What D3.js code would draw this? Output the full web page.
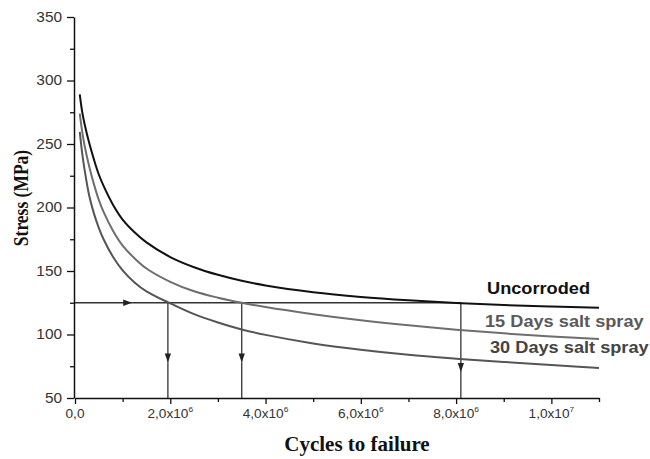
<!DOCTYPE html>
<html>
<head>
<meta charset="utf-8">
<script src="https://cdn.jsdelivr.net/npm/d3@7"></script>
<style>
  html, body { margin: 0; padding: 0; background: #fff; }
  svg { display: block; }
</style>
</head>
<body>
<svg id="chart" width="650" height="459"></svg>
<script>
// ---- data (cycles in units of 1e6) ----
const cycles     = [0.1, 0.15, 0.2, 0.3, 0.4, 0.5, 0.6, 0.8, 1.0, 1.25, 1.5, 2, 2.5, 3, 3.5, 4, 5, 6, 7, 8, 9, 10, 11];
const uncorroded = [289, 275.5, 266, 250.5, 237.5, 226, 217, 202, 190.5, 180.5, 172.5, 161, 153, 147, 142.3, 138.6, 133.3, 129.6, 126.9, 124.8, 123.2, 122, 121];
const days15     = [274, 260, 249, 232, 218, 206, 196.5, 181.5, 170, 160, 152, 141.5, 134, 129, 125, 121.6, 116, 111.2, 107.2, 103.8, 100.9, 98.5, 96.5];
const days30     = [259.5, 243, 230, 209, 195, 184, 175, 161, 150.5, 141, 134, 124.5, 116, 109.5, 104, 99.7, 93, 88, 84, 81, 78.4, 76, 73.6];
const seriesNames = ["Uncorroded", "15 Days salt spray", "30 Days salt spray"];
const refStress = 125;
const crossCycles = [1.95, 3.5, 8.1];
const arrowStress = [78, 78, 70.5];
const hArrowCycles = 1.2;
const yTicks = [50, 100, 150, 200, 250, 300, 350];
const yMinor = [75, 125, 175, 225, 275, 325];
const xTicks = [0, 2, 4, 6, 8, 10];
const xTickMant = ["0,0", "2,0", "4,0", "6,0", "8,0", "1,0"];
const xTickExp = ["", "6", "6", "6", "6", "7"];
const xMinor = [1, 3, 5, 7, 9, 11];

const svg = d3.select("#chart");
const x = d3.scaleLinear().domain([0, 11]).range([75, 599]);
const y = d3.scaleLinear().domain([50, 350]).range([398, 17]);

const defs = svg.append("defs");
defs.append("marker").attr("id", "arr")
  .attr("viewBox", "0 0 10 10").attr("refX", 10).attr("refY", 5)
  .attr("markerWidth", 9).attr("markerHeight", 9).attr("markerUnits", "userSpaceOnUse")
  .attr("orient", "auto")
  .append("path").attr("d", "M0,1.5 L10,5 L0,8.5 Z").attr("fill", "#222");

// ---- axes ----
const yAxis = svg.append("g").attr("transform", `translate(${x(0) - 1},0)`)
  .call(d3.axisLeft(y).tickValues(yTicks).tickSize(7).tickSizeOuter(0).tickPadding(5));
svg.append("g").attr("transform", `translate(${x(0) - 1},0)`)
  .call(d3.axisLeft(y).tickValues(yMinor).tickSize(4).tickFormat(""))
  .select(".domain").remove();
yAxis.selectAll(".tick text")
  .attr("font-family", "Liberation Sans, Arial, sans-serif")
  .attr("font-size", 14).attr("fill", "#333")
  .attr("transform", "translate(-12,0) scale(1.1,1) translate(12,0)");

svg.append("g").attr("transform", `translate(0,${y(50)})`)
  .call(d3.axisBottom(x).tickValues(xTicks).tickSize(6).tickSizeOuter(0).tickFormat(""));
svg.append("g").attr("transform", `translate(0,${y(50)})`)
  .call(d3.axisBottom(x).tickValues(xMinor).tickSize(4).tickFormat(""))
  .select(".domain").remove();
svg.selectAll(".domain").attr("stroke", "#111").attr("stroke-width", 1.5);
svg.selectAll(".tick line").attr("stroke", "#111").attr("stroke-width", 1.3);

const xl = svg.append("g");
xTicks.forEach((v, i) => {
  const t = xl.append("text")
    .attr("transform", `translate(${x(v)},418) scale(1.05,1)`)
    .attr("text-anchor", "middle")
    .attr("font-family", "Liberation Sans, Arial, sans-serif").attr("font-size", 13).attr("fill", "#333");
  if (xTickExp[i] === "") {
    t.text(xTickMant[i]);
  } else {
    t.append("tspan").text(xTickMant[i] + "x10");
    t.append("tspan").attr("dy", -6).attr("font-size", 8).text(xTickExp[i]);
  }
});

// ---- axis titles ----
svg.append("text").attr("transform", "translate(28,198) scale(1.2,1) rotate(-90)")
  .attr("text-anchor", "middle")
  .attr("font-family", "Liberation Serif, Times New Roman, serif").attr("font-weight", "bold")
  .attr("font-size", 17.5).attr("fill", "#111").text("Stress (MPa)");
svg.append("text").attr("x", 357).attr("y", 451).attr("text-anchor", "middle")
  .attr("font-family", "Liberation Serif, Times New Roman, serif").attr("font-weight", "bold")
  .attr("font-size", 21).attr("fill", "#111").text("Cycles to failure");

// ---- reference lines ----
const refG = svg.append("g").attr("stroke", "#333").attr("stroke-width", 1.3).attr("fill", "none");
refG.append("line").attr("x1", x(0)).attr("x2", x(hArrowCycles)).attr("y1", y(refStress)).attr("y2", y(refStress))
  .attr("marker-end", "url(#arr)");
refG.append("line").attr("x1", x(hArrowCycles)).attr("x2", x(crossCycles[2])).attr("y1", y(refStress)).attr("y2", y(refStress));
crossCycles.forEach((c, i) => {
  refG.append("line").attr("x1", x(c)).attr("x2", x(c)).attr("y1", y(refStress)).attr("y2", y(arrowStress[i]))
    .attr("marker-end", "url(#arr)");
  refG.append("line").attr("x1", x(c)).attr("x2", x(c)).attr("y1", y(arrowStress[i])).attr("y2", y(50));
});

// ---- curves ----
const line = d3.line().x((d, i) => x(cycles[i])).y(d => y(d)).curve(d3.curveCatmullRom.alpha(0.5));
const allSeries = [uncorroded, days15, days30];
const colors = ["#111111", "#6e6e6e", "#555555"];
allSeries.forEach((s, k) => {
  svg.append("path").datum(s).attr("d", line).attr("fill", "none")
    .attr("stroke", colors[k]).attr("stroke-width", 2);
});

// ---- labels ----
const labelPos = [[487, 294], [485, 327], [490, 353]];
const labelColors = ["#111", "#5a5a5a", "#444"];
seriesNames.forEach((n, k) => {
  svg.append("text").attr("transform", `translate(${labelPos[k][0]},${labelPos[k][1]}) scale(1.07,1)`)
    .attr("font-family", "Liberation Sans, Arial, sans-serif").attr("font-weight", "bold")
    .attr("font-size", 17).attr("fill", labelColors[k]).text(n);
});
</script>
</body>
</html>
